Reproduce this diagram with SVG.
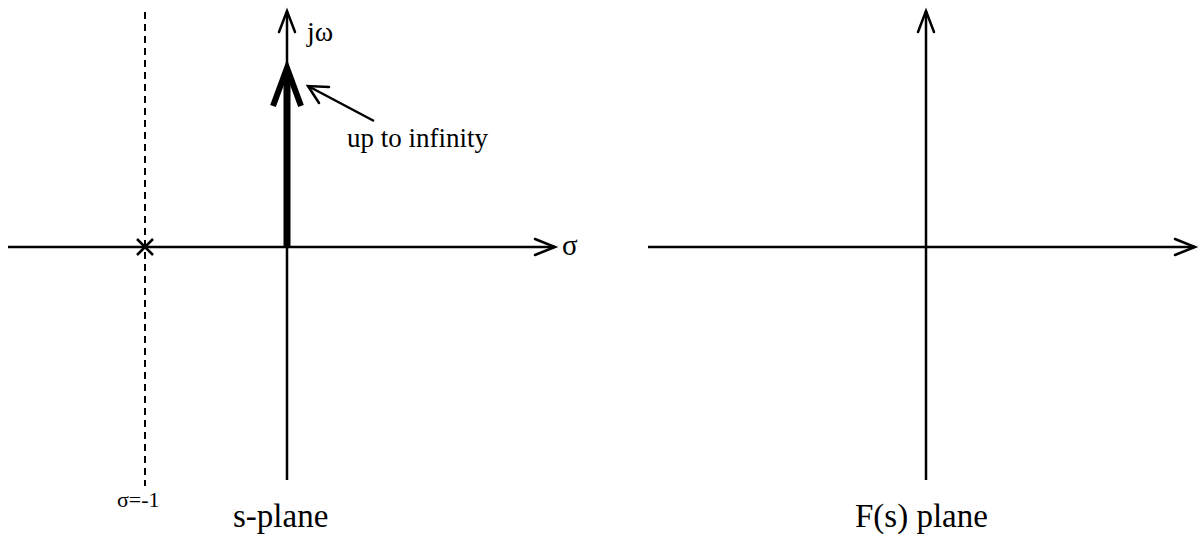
<svg xmlns="http://www.w3.org/2000/svg" width="1200" height="535" viewBox="0 0 1200 535">
<style>
.ax{stroke:#000;stroke-width:2.5;fill:none}
.hd{stroke:#000;stroke-width:2.5;fill:none;stroke-linecap:round;stroke-linejoin:miter}
.t{font-family:"Liberation Serif","DejaVu Serif",serif;fill:#000}
</style>
<rect width="1200" height="535" fill="#fff"/>
<g id="connectors">
  <!-- left plane -->
  <line class="ax" x1="8" y1="247" x2="555" y2="247"/>
  <polyline class="hd" points="535,239 555,247 535,255"/>
  <line class="ax" x1="287" y1="480" x2="287" y2="11"/>
  <polyline class="hd" points="279,32 287,11 295,32"/>
  <line x1="145" y1="12" x2="145" y2="486" stroke="#000" stroke-width="2" stroke-dasharray="7,5"/>
  <line x1="287" y1="247" x2="287" y2="72" stroke="#000" stroke-width="7"/>
  <polyline points="273,106 287,68 301,106" fill="none" stroke="#000" stroke-width="6" stroke-linejoin="miter" stroke-miterlimit="10"/>
  <line class="ax" x1="374" y1="121" x2="308" y2="86"/>
  <polyline class="hd" points="329,87 308,86 319,103"/>
  <!-- right plane -->
  <line class="ax" x1="648" y1="247" x2="1195" y2="247"/>
  <polyline class="hd" points="1175,239 1195,247 1175,255"/>
  <line class="ax" x1="926" y1="480" x2="926" y2="11"/>
  <polyline class="hd" points="918,32 926,11 934,32"/>
</g>
<g id="pole">
  <line x1="137" y1="239" x2="153" y2="255" stroke="#000" stroke-width="2.5"/>
  <line x1="153" y1="239" x2="137" y2="255" stroke="#000" stroke-width="2.5"/>
</g>
<g id="labels">
  <text class="t" x="307" y="41" font-size="28">jω</text>
  <text class="t" x="347" y="147" font-size="27">up to infinity</text>
  <text class="t" x="562" y="255" font-size="29">σ</text>
  <text class="t" x="117" y="507" font-size="22">σ=-1</text>
  <text class="t" x="233" y="527" font-size="33">s-plane</text>
  <text class="t" x="855" y="527" font-size="33">F(s) plane</text>
</g>
</svg>
